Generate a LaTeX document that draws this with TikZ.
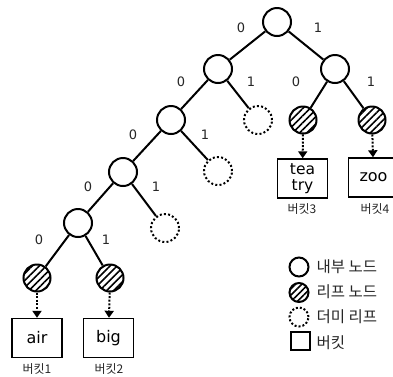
\documentclass[tikz,border=0pt]{standalone}
\usepackage{fontspec}
\setmainfont{DejaVu Sans}
\newfontfamily\kr{Noto Sans CJK KR}
\usetikzlibrary{patterns.meta,arrows.meta}
\begin{document}
\begin{tikzpicture}[x=1pt,y=-1pt,
  inner/.style={circle,draw,line width=2pt,minimum size=28pt,inner sep=0pt},
  leaf/.style={circle,draw,line width=2pt,minimum size=27pt,inner sep=0pt,
    pattern={Lines[angle=45,distance=5pt,line width=1.6pt]}},
  dummy/.style={circle,draw,line width=2pt,minimum size=28pt,inner sep=0pt,
    dash pattern=on 2pt off 2.2pt},
  bucket/.style={draw,line width=1.4pt,minimum width=50pt,minimum height=39pt,inner sep=0pt,
    font=\fontsize{16}{16}\selectfont,align=center},
  edge/.style={line width=2pt},
  ptr/.style={line width=2pt,dash pattern=on 2pt off 1.6pt,-{Triangle[length=7pt,width=9pt]}},
  bit/.style={font=\fontsize{13}{13}\selectfont,text=black!85},
  blabel/.style={font=\kr\fontsize{12}{12}\selectfont,text=black!85},
  ltext/.style={font=\kr\fontsize{15.5}{15.5}\selectfont,anchor=west,text=black!85}
]
\useasboundingbox (0,0) rectangle (393,376);
% tree nodes
\node[inner] (r) at (277,22) {};
\node[inner] (a) at (218,69) {};
\node[inner] (b) at (335,69) {};
\node[inner] (c) at (171,120) {};
\node[dummy] (d1) at (258,120) {};
\node[leaf] (lt) at (303,120) {};
\node[leaf] (lz) at (372,120) {};
\node[inner] (e) at (123,172) {};
\node[dummy] (d2) at (218,171) {};
\node[inner] (f) at (78,223) {};
\node[dummy] (d3) at (165,228) {};
\node[leaf] (la) at (37,278) {};
\node[leaf] (lb) at (110,278) {};
% buckets
\node[bucket] (ba) at (37,338) {air};
\node[bucket] (bb) at (108.5,338) {big};
\node[bucket,font=\fontsize{15.5}{16.5}\selectfont] (bt) at (302.5,178.5) {tea\\try};
\node[bucket] (bz) at (373.5,177.5) {zoo};
\node[blabel] (ka) at (37,369) {버킷1};
\node[blabel] (kb) at (109,369) {버킷2};
\node[blabel] (kt) at (302,209) {버킷3};
\node[blabel] (kz) at (375,209) {버킷4};
% edges
\draw[edge] (r) -- (a);
\draw[edge] (r) -- (b);
\draw[edge] (a) -- (c);
\draw[edge] (a) -- (d1);
\draw[edge] (b) -- (lt);
\draw[edge] (b) -- (lz);
\draw[edge] (c) -- (e);
\draw[edge] (c) -- (d2);
\draw[edge] (e) -- (f);
\draw[edge] (e) -- (d3);
\draw[edge] (f) -- (la);
\draw[edge] (f) -- (lb);
% pointers
\draw[ptr] (la) -- (ba);
\draw[ptr] (lb) -- (bb);
\draw[ptr] (lt) -- (bt);
\draw[ptr] (lz) -- (bz);
% bit labels
\node[bit] (t1) at (241,28) {0};
\node[bit] (t2) at (318,28) {1};
\node[bit] (t3) at (181,82) {0};
\node[bit] (t4) at (251,82) {1};
\node[bit] (t5) at (296,82) {0};
\node[bit] (t6) at (371,82) {1};
\node[bit] (t7) at (133,135) {0};
\node[bit] (t8) at (205,135) {1};
\node[bit] (t9) at (88,187) {0};
\node[bit] (t10) at (156,187) {1};
\node[bit] (t11) at (39,240) {0};
\node[bit] (t12) at (106,240) {1};
% legend
\node[inner,minimum size=19pt] (g1) at (299,267) {};
\node[leaf,minimum size=19pt,pattern={Lines[angle=45,distance=4.5pt,line width=1.6pt]}] (g2) at (299,292.5) {};
\node[dummy,minimum size=19pt,dash pattern=on 2pt off 2pt] (g3) at (299,317) {};
\node[draw,line width=1.4pt,minimum width=19pt,minimum height=18pt,inner sep=0pt] (g4) at (300.5,341) {};
\node[ltext] (h1) at (313,266.5) {내부 노드};
\node[ltext] (h2) at (313,292) {리프 노드};
\node[ltext] (h3) at (313,316.5) {더미 리프};
\node[ltext] (h4) at (313,342.5) {버킷};
\end{tikzpicture}
\end{document}
